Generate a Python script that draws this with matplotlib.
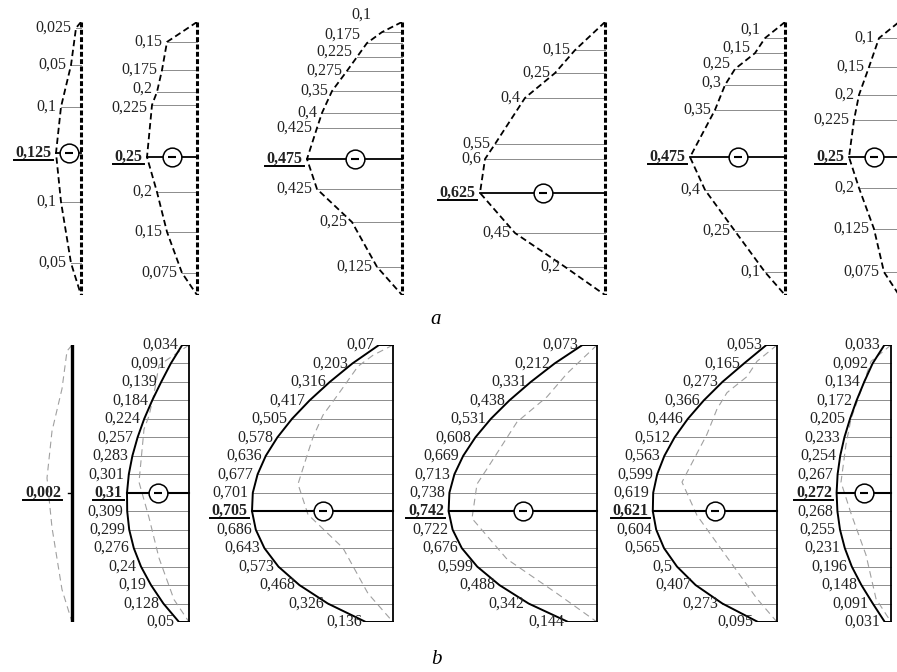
import numpy as np
import matplotlib
matplotlib.use("Agg")
import matplotlib.pyplot as plt
from matplotlib.lines import Line2D

plt.rcParams['font.family'] = ['Liberation Serif', 'DejaVu Serif']

W, H = 897, 672
SCALE = 200          # pixels per unit of ordinate
FS = 11.5

# ---- row a : station positions (fraction of span, top->bottom) and values
a1_pos = [0.022, 0.158, 0.311, 0.48, 0.659, 0.883]
a1_val = [0.025, 0.05, 0.1, 0.125, 0.1, 0.05]
a2_pos = [0.073, 0.176, 0.256, 0.304, 0.495, 0.623, 0.769, 0.919]
a2_val = [0.15, 0.175, 0.2, 0.225, 0.25, 0.2, 0.15, 0.075]
a3_pos = [0.037, 0.077, 0.128, 0.179, 0.253, 0.333, 0.388, 0.502, 0.612, 0.733, 0.897]
a3_val = [0.1, 0.175, 0.225, 0.275, 0.35, 0.4, 0.425, 0.475, 0.425, 0.25, 0.125]
a4_pos = [0.103, 0.187, 0.278, 0.447, 0.502, 0.626, 0.773, 0.897]
a4_val = [0.15, 0.25, 0.4, 0.55, 0.6, 0.625, 0.45, 0.2]
a5_pos = [0.059, 0.114, 0.172, 0.231, 0.322, 0.495, 0.615, 0.766, 0.916]
a5_val = [0.1, 0.15, 0.25, 0.3, 0.35, 0.475, 0.4, 0.25, 0.1]
a6_pos = [0.059, 0.165, 0.267, 0.359, 0.495, 0.608, 0.758, 0.916]
a6_val = [0.1, 0.15, 0.2, 0.225, 0.25, 0.2, 0.125, 0.075]

# ---- row b : 16 equally spaced stations
b_pos = np.linspace(0, 1, 16)
b1_val = 0.002
b2_val = [0.034, 0.091, 0.139, 0.184, 0.224, 0.257, 0.283, 0.301, 0.31,
          0.309, 0.299, 0.276, 0.24, 0.19, 0.128, 0.05]
b3_val = [0.07, 0.203, 0.316, 0.417, 0.505, 0.578, 0.636, 0.677, 0.701,
          0.705, 0.686, 0.643, 0.573, 0.468, 0.326, 0.136]
b4_val = [0.073, 0.212, 0.331, 0.438, 0.531, 0.608, 0.669, 0.713, 0.738,
          0.742, 0.722, 0.676, 0.599, 0.488, 0.342, 0.144]
b5_val = [0.053, 0.165, 0.273, 0.366, 0.446, 0.512, 0.563, 0.599, 0.619,
          0.621, 0.604, 0.565, 0.5, 0.407, 0.273, 0.095]
b6_val = [0.033, 0.092, 0.134, 0.172, 0.205, 0.233, 0.254, 0.267, 0.272,
          0.268, 0.255, 0.231, 0.196, 0.148, 0.091, 0.031]

# layout (pixels)
A_TOP, A_BOT = 22, 295
B_TOP, B_BOT = 345, 622
a_base = [81, 197, 402, 605, 785, 899]
b_base = [72, 189, 393, 597, 777, 891]

# label nudges (px) for crowded labels: {(diagram, index): (dx, dy)}
nudge = {(1, 2): (0, -3), (1, 3): (0, 3),
         (2, 0): (-6, -17), (2, 1): (-2, -8), (2, 2): (0, -5),
         (4, 0): (0, -8), (4, 1): (0, -5), (4, 2): (0, -5), (4, 3): (0, -2)}

fig = plt.figure(figsize=(W / 100, H / 100), dpi=100)
underlined = []


def fmt(v):
    return f"{v:g}".replace('.', ',')


def make_ax(base, top, bot):
    left = base - 0.9 * SCALE
    ax = fig.add_axes([left / W, 1 - bot / H, SCALE / W, (bot - top) / H])
    ax.set_xlim(0.9, -0.1)
    ax.set_ylim(1, 0)
    ax.axis('off')
    return ax


def sign(ax, v, p):
    ax.plot(v / 2, p, 'o', ms=13.5, mfc='white', mec='k', mew=1.1, zorder=6)
    ax.plot(v / 2, p, '_', ms=6, mew=1.5, color='k', zorder=7)


def label(ax, v, p, center, dx=0, dy=0):
    t = ax.annotate(fmt(v), (v, p), xytext=(-3 + dx * 0.72, -dy * 0.72),
                    textcoords='offset points', ha='right', va='center',
                    fontsize=FS, color='#222222',
                    fontweight='bold' if center else 'normal', zorder=8)
    if center:
        underlined.append(t)


# ---------- row a
a_pos_all = [a1_pos, a2_pos, a3_pos, a4_pos, a5_pos, a6_pos]
a_val_all = [a1_val, a2_val, a3_val, a4_val, a5_val, a6_val]
for k, (base, pos, val) in enumerate(zip(a_base, a_pos_all, a_val_all)):
    ax = make_ax(base, A_TOP, A_BOT)
    c = int(np.argmax(val))
    ax.plot([0] + val + [0], [0] + pos + [1], color='k', lw=1.3,
            ls=(0, (3.5, 2)), zorder=4)
    ax.plot([0, 0], [0, 1], color='k', lw=2.2, ls=(0, (1.6, 0.8)), zorder=5)
    for i, (p, v) in enumerate(zip(pos, val)):
        if i == c:
            ax.plot([v, 0], [p, p], color='k', lw=1.3, zorder=3)
        else:
            ax.plot([v, 0], [p, p], color='#8c8c8c', lw=0.7, zorder=2)
        dx, dy = nudge.get((k, i), (0, 0))
        label(ax, v, p, i == c, dx, dy)
    sign(ax, val[c], pos[c])

fig.text(436 / W, 1 - 319 / H, 'a', fontsize=15, style='italic',
         ha='center', va='center')

# ---------- row b
b_val_all = [None, b2_val, b3_val, b4_val, b5_val, b6_val]
for k, (base, val) in enumerate(zip(b_base, b_val_all)):
    ax = make_ax(base, B_TOP, B_BOT)
    # row a diagram drawn for comparison (thin grey dashed)
    ax.plot([0] + a_val_all[k] + [0], [0] + a_pos_all[k] + [1],
            color='#a0a0a0', lw=0.8, ls=(0, (6, 4)), zorder=3)
    if val is None:
        ax.plot([0, 0], [0, 1], color='k', lw=2.4, zorder=5)
        ax.plot([0.02, 0], [b_pos[8], b_pos[8]], color='k', lw=1.0, zorder=5)
        label(ax, b1_val, b_pos[8], True, dx=-6)
        continue
    c = int(np.argmax(val))
    ax.plot([0] + val + [0], [0] + list(b_pos) + [1], color='k', lw=1.4,
            zorder=4)
    ax.plot([0, 0], [0, 1], color='k', lw=1.3, zorder=5)
    for i, (p, v) in enumerate(zip(b_pos, val)):
        if i == c:
            ax.plot([v, 0], [p, p], color='k', lw=1.5, zorder=3)
        else:
            ax.plot([v, 0], [p, p], color='#8c8c8c', lw=0.7, zorder=2)
        label(ax, v, p, i == c)
    sign(ax, val[c], b_pos[c])

fig.text(436 / W, 1 - 660 / H, 'b', fontsize=15, style='italic',
         ha='center', va='center')

# underline the maximum values
fig.canvas.draw()
r = fig.canvas.get_renderer()
inv = fig.transFigure.inverted()
for t in underlined:
    bb = t.get_window_extent(r)
    (x0, y0), (x1, _) = inv.transform([(bb.x0 - 2, bb.y0 + 1), (bb.x1 + 1, bb.y0 + 1)])
    fig.add_artist(Line2D([x0, x1], [y0, y0], color='k', lw=1.4))

fig.savefig('out.png', dpi=100)
